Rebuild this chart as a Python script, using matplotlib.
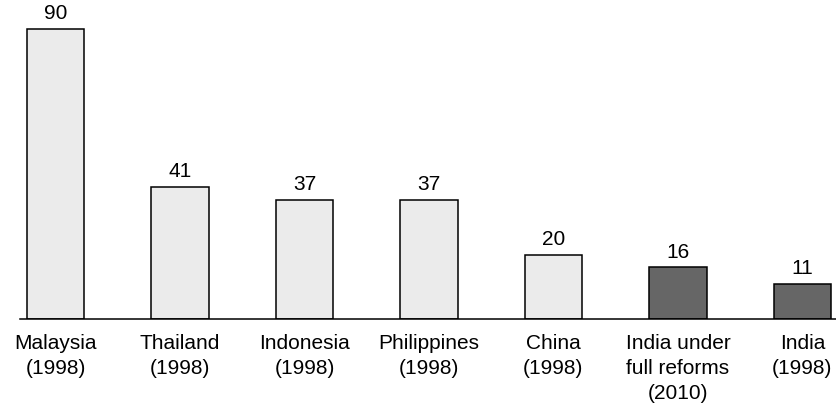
import matplotlib
matplotlib.use("Agg")
import matplotlib.pyplot as plt

# values per economy
categories = ["Malaysia\n(1998)", "Thailand\n(1998)", "Indonesia\n(1998)",
              "Philippines\n(1998)", "China\n(1998)",
              "India under\nfull reforms\n(2010)", "India\n(1998)"]
values = [90, 41, 37, 37, 20, 16, 11]
is_india = [False, False, False, False, False, True, True]

plt.rcParams['font.family'] = ['Liberation Sans', 'DejaVu Sans']

fig = plt.figure(figsize=(8.36, 4.11), dpi=100)
ax = fig.add_axes([20 / 836, 1 - 319 / 411, 816 / 836, 319 / 411])

colors = ['#666666' if f else '#ebebeb' for f in is_india]
x = range(len(values))
bars = ax.bar(x, values, width=0.46, color=colors, edgecolor='black', linewidth=1.1)

for xi, v in zip(x, values):
    ax.text(xi, v + 1.75, str(v), ha='center', va='bottom', fontsize=15)

ax.set_xlim(-0.285, 6.27)
ax.set_ylim(0, 99)
ax.set_xticks(list(x))
ax.set_xticklabels(categories, fontsize=15, linespacing=1.4)
ax.tick_params(axis='x', length=0, pad=11)
ax.set_yticks([])
for s in ['top', 'right', 'left']:
    ax.spines[s].set_visible(False)
ax.spines['bottom'].set_linewidth(1.1)

fig.savefig('out.png', dpi=100)
